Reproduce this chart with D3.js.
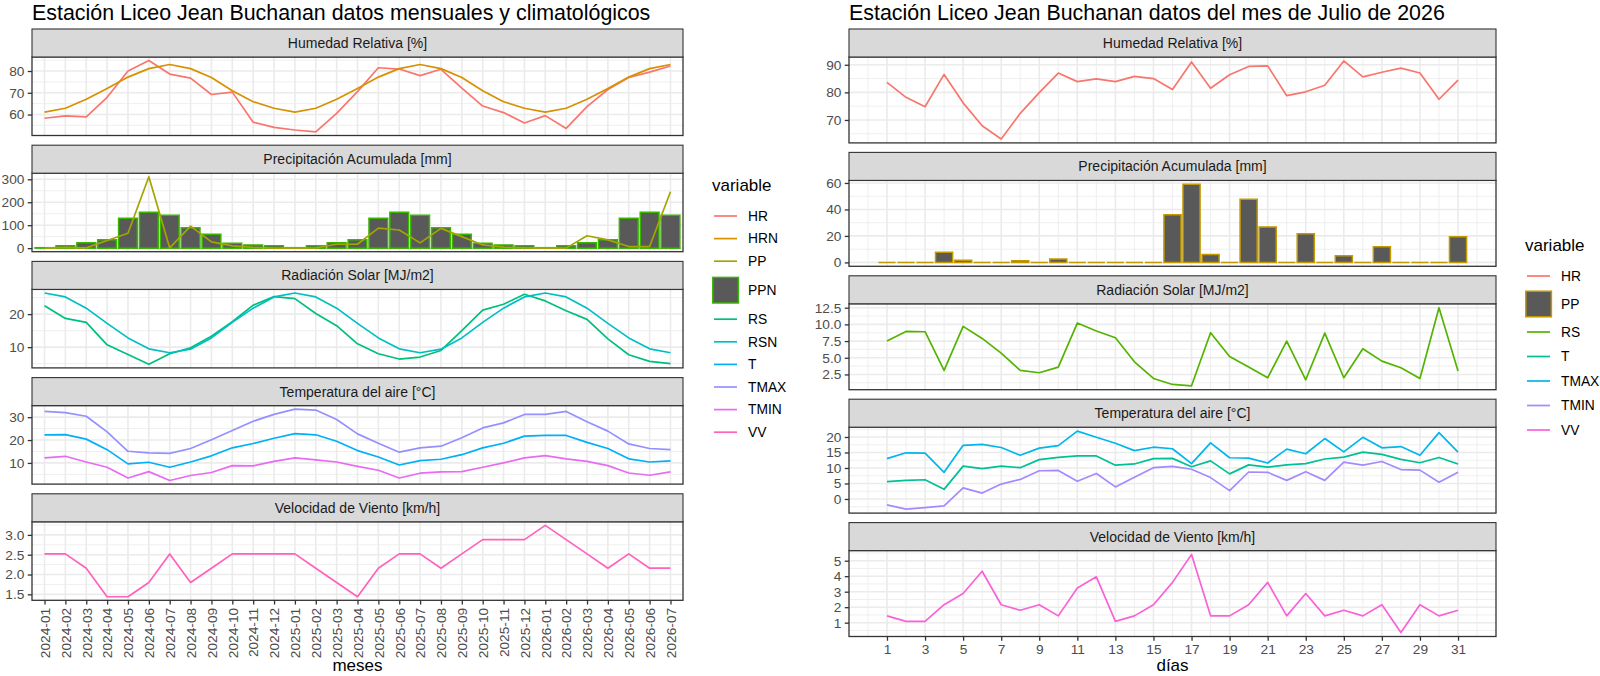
<!DOCTYPE html>
<html>
<head>
<meta charset="utf-8">
<script src="https://cdn.jsdelivr.net/npm/d3@7"></script>
<style>
  body { margin: 0; background: #fff; overflow: hidden; }
  svg text { font-family: "Liberation Sans", Arial, Helvetica, sans-serif; }
</style>
</head>
<body>
<script>
// ---- datos mensuales (2024-01 .. 2026-07)
const meses = ["2024-01","2024-02","2024-03","2024-04","2024-05","2024-06","2024-07","2024-08","2024-09","2024-10","2024-11","2024-12",
  "2025-01","2025-02","2025-03","2025-04","2025-05","2025-06","2025-07","2025-08","2025-09","2025-10","2025-11","2025-12",
  "2026-01","2026-02","2026-03","2026-04","2026-05","2026-06","2026-07"];
const HR   = [58.3,59.4,58.9,67.9,80.0,84.8,78.6,76.7,69.2,70.3,56.5,54.1, 52.9,52.0,60.5,70.5,81.5,80.9,77.9,80.8,72.1,63.9,60.9,56.1, 59.5,53.6,63.6,71.5,77.0,79.5,82.3];
const HRN  = [61.1,62.9,67.0,72.0,77.2,81.1,83.0,81.1,77.0,70.9,65.9,62.9, 61.1,62.9,67.0,72.0,77.2,81.1,83.0,81.1,77.0,70.9,65.9,62.9, 61.1,62.9,67.0,72.0,77.2,81.1,83.0];
const PP   = [0,3,1,33,65,311,1,96,27,10,3,0, 0,1,17,17,87,79,23,86,50,14,4,1, 0,0,54,36,7,7,246];
const PPN  = [2,10,23,36,130,156,143,89,61,21,14,10, 2,10,23,36,130,156,143,89,61,21,14,10, 2,10,23,36,130,156,143];
const RS   = [22.5,18.7,17.5,10.7,7.8,4.8,8.0,9.8,13.3,17.7,22.7,25.3, 24.7,20.2,16.5,11.0,8.0,6.4,7.0,9.0,15.0,21.2,23.0,26.0, 24.0,21.0,18.4,12.5,7.7,5.7,5.0];
const RSN  = [26.4,25.2,21.8,17.2,12.8,9.5,8.3,9.4,12.8,17.5,21.8,25.2, 26.4,25.2,21.8,17.2,12.8,9.5,8.3,9.4,12.8,17.5,21.8,25.2, 26.4,25.2,21.8,17.2,12.8,9.5,8.3];
const T    = [22.3,22.4,20.4,15.8,9.6,10.3,8.1,10.4,13.1,16.6,18.5,20.8, 22.8,22.3,19.5,15.4,12.6,9.1,11.0,11.6,13.6,16.6,18.6,21.7, 22.0,22.0,19.0,16.3,11.8,10.4,10.9];
const TMAX = [32.5,32.0,30.4,23.6,15.1,14.4,14.2,16.3,20.1,24.2,28.2,31.2, 33.5,33.1,29.0,22.7,18.6,14.7,16.6,17.3,21.0,25.3,27.5,31.2, 31.2,32.5,28.0,23.9,18.3,16.3,15.8];
const TMIN = [12.2,12.9,10.4,8.1,3.4,6.2,2.3,4.5,5.8,8.8,8.7,10.7, 12.2,11.3,10.4,8.5,6.8,3.4,5.5,6.1,6.2,8.1,10.0,12.2, 13.2,11.8,10.7,8.8,5.6,4.6,6.1];
const VV   = [2.52,2.52,2.16,1.44,1.44,1.8,2.52,1.8,2.16,2.52,2.52,2.52, 2.52,2.16,1.8,1.44,2.16,2.52,2.52,2.16,2.52,2.88,2.88,2.88, 3.24,2.88,2.52,2.16,2.52,2.16,2.16];

// ---- datos diarios (julio 2026)
const dias  = [1,2,3,4,5,6,7,8,9,10,11,12,13,14,15,16,17,18,19,20,21,22,23,24,25,26,27,28,29,30,31];
const HRd   = [83.6,78.2,74.8,86.5,76.2,67.9,63.1,72.4,79.9,87.0,83.9,84.9,83.9,85.8,85.0,81.0,91.0,81.5,86.4,89.4,89.6,78.8,80.2,82.6,91.4,85.6,87.3,88.8,87.0,77.5,84.4];
const PPd   = [0,0,0,7.7,1.7,0,0,1.2,0,2.5,0,0,0,0,0,36,59,6,0,47.8,26.8,0,21.6,0,5,0,11.9,0,0,0,19.3];
const RSd   = [7.5,8.95,8.9,3.1,9.7,7.9,5.7,3.1,2.75,3.6,10.2,9.0,8.0,4.4,1.9,1.0,0.8,8.75,5.2,3.6,2.0,7.5,1.7,8.7,2.0,6.35,4.5,3.5,1.9,12.5,3.0];
const Td    = [5.6,6.0,6.2,3.1,10.6,9.8,10.6,10.1,12.7,13.4,13.9,13.9,10.9,11.3,13.0,13.1,10.4,12.3,8.1,11.0,10.3,11.0,11.4,12.9,13.5,15.1,14.4,12.8,11.7,13.4,11.3];
const TMAXd = [13.0,14.9,14.8,8.6,17.3,17.6,16.6,14.1,16.4,17.2,21.9,19.9,18.0,15.6,16.7,16.2,11.4,18.1,13.3,13.2,11.6,16.1,14.6,19.5,15.2,19.9,16.5,16.9,14.1,21.4,15.1];
const TMINd = [-1.9,-3.3,-2.8,-2.2,3.6,1.9,4.8,6.3,9.1,9.2,5.7,8.2,3.9,7.0,10.1,10.5,9.6,6.9,2.7,8.7,8.6,6.0,8.8,6.0,11.9,10.9,12.1,9.5,9.3,5.4,8.6];
const VVd   = [1.44,1.08,1.08,2.16,2.88,4.32,2.16,1.8,2.16,1.44,3.24,3.96,1.08,1.44,2.16,3.6,5.4,1.44,1.44,2.16,3.6,1.44,2.88,1.44,1.8,1.44,2.16,0.36,2.16,1.44,1.8];

// ---- textos y marcas de ejes
const strips = ["Humedad Relativa [%]", "Precipitación Acumulada [mm]", "Radiación Solar [MJ/m2]", "Temperatura del aire [°C]", "Velocidad de Viento [km/h]"];
const hrTicks = [60, 70, 80], ppTicks = [0, 100, 200, 300], rsTicks = [10, 20], tTicks = [10, 20, 30], vvTicks = [1.5, 2.0, 2.5, 3.0];
const hrTicksD = [70, 80, 90], ppTicksD = [0, 20, 40, 60], rsTicksD = [2.5, 5.0, 7.5, 10.0, 12.5], tTicksD = [0, 5, 10, 15, 20], vvTicksD = [1, 2, 3, 4, 5];
const diasBreaks = [1,3,5,7,9,11,13,15,17,19,21,23,25,27,29,31];

// paletas (hue de ggplot)
const varsL = ["HR","HRN","PP","PPN","RS","RSN","T","TMAX","TMIN","VV"];
const colsL = ["#F8766D","#D89000","#A3A500","#39B600","#00BF7D","#00BFC4","#00B0F6","#9590FF","#E76BF3","#FF62BC"];
const varsR = ["HR","PP","RS","T","TMAX","TMIN","VV"];
const colsR = ["#F8766D","#C49A00","#53B400","#00C094","#00B6EB","#A58AFF","#FB61D7"];
const cL = k => colsL[varsL.indexOf(k)];
const cR = k => colsR[varsR.indexOf(k)];

const svg = d3.select("body").append("svg").attr("width", 1600).attr("height", 676);

const STRIP = 28;
const BAR_FILL = "#595959";

function expand(vals) {
  const lo = d3.min(vals), hi = d3.max(vals), pad = (hi - lo) * 0.05;
  return [lo - pad, hi + pad];
}
function minorOf(ticks, dom) {
  const s = ticks[1] - ticks[0];
  return [ticks[0] - s / 2, ...ticks.map(t => t + s / 2)].filter(v => v >= dom[0] && v <= dom[1]);
}

function styleAxis(a) {
  a.attr("font-family", null).attr("font-size", 13.7);
  a.select(".domain").remove();
  a.selectAll("line").attr("stroke", "#333").attr("stroke-width", 1.3);
  a.selectAll("text").attr("fill", "#4D4D4D");
}

function drawSide(o) {
  const g = svg.append("g");
  g.append("text").attr("x", o.x0).attr("y", 20).attr("font-size", 21.4).attr("fill", "#000").text(o.title);

  o.panels.forEach((p, i) => {
    const st = o.top + i * o.step, pt = st + STRIP, pb = pt + o.ph;
    const all = [].concat(...p.lines.map(l => l[0]), p.bar ? p.bar[0] : [], p.bar ? [0] : []);
    const y = d3.scaleLinear().domain(expand(all)).range([pb, pt]);
    const pg = g.append("g");

    pg.append("rect").attr("x", o.x0).attr("y", pt).attr("width", o.x1 - o.x0).attr("height", o.ph).attr("fill", "#fff");

    // grilla
    const grid = pg.append("g").attr("stroke", "#EBEBEB").attr("fill", "none");
    grid.selectAll(".ymin").data(minorOf(p.ticks, y.domain())).join("line")
      .attr("x1", o.x0).attr("x2", o.x1).attr("y1", d => y(d)).attr("y2", d => y(d)).attr("stroke-width", 0.8);
    if (o.xMinor) {
      grid.selectAll(".xmin").data(o.xMinor).join("line")
        .attr("x1", d => o.x(d)).attr("x2", d => o.x(d)).attr("y1", pt).attr("y2", pb).attr("stroke-width", 0.8);
    }
    grid.selectAll(".ymaj").data(p.ticks).join("line")
      .attr("x1", o.x0).attr("x2", o.x1).attr("y1", d => y(d)).attr("y2", d => y(d)).attr("stroke-width", 1.6);
    grid.selectAll(".xmaj").data(o.xBreaks).join("line")
      .attr("x1", d => o.x(d)).attr("x2", d => o.x(d)).attr("y1", pt).attr("y2", pb).attr("stroke-width", 1.6);

    // barras
    if (p.bar) {
      const hw = o.barHalf;
      pg.append("g").selectAll("path").data(p.bar[0]).join("path")
        .attr("d", (v, j) => {
          const xc = o.x(o.xKey[j]);
          return `M${xc - hw},${y(0)}H${xc + hw}V${y(v)}H${xc - hw}Z`;
        })
        .attr("fill", BAR_FILL).attr("stroke", p.bar[1]).attr("stroke-width", 1.5);
    }

    // lineas
    p.lines.forEach(l => {
      const line = d3.line().x((v, j) => o.x(o.xKey[j])).y(v => y(v));
      pg.append("path").attr("d", line(l[0])).attr("fill", "none")
        .attr("stroke", l[1]).attr("stroke-width", 1.7).attr("stroke-linejoin", "round");
    });

    // borde del panel
    pg.append("rect").attr("x", o.x0).attr("y", pt).attr("width", o.x1 - o.x0).attr("height", o.ph)
      .attr("fill", "none").attr("stroke", "#333").attr("stroke-width", 1.3);

    // strip
    pg.append("rect").attr("x", o.x0).attr("y", st).attr("width", o.x1 - o.x0).attr("height", STRIP)
      .attr("fill", "#D9D9D9").attr("stroke", "#333").attr("stroke-width", 1.1);
    pg.append("text").attr("x", (o.x0 + o.x1) / 2).attr("y", st + STRIP / 2).attr("dy", "0.35em")
      .attr("text-anchor", "middle").attr("font-size", 14).attr("fill", "#1A1A1A").text(strips[i]);

    // eje y
    const ay = pg.append("g").attr("transform", `translate(${o.x0},0)`)
      .call(d3.axisLeft(y).tickValues(p.ticks).tickSize(4.25).tickPadding(3.4).tickFormat(d3.format(p.fmt)));
    styleAxis(ay);

    // eje x (solo panel inferior)
    if (i === o.panels.length - 1) {
      const ax = pg.append("g").attr("transform", `translate(0,${pb})`)
        .call(d3.axisBottom(o.x).tickValues(o.xBreaks).tickSize(4.25).tickPadding(3.4).tickFormat(o.xFmt));
      styleAxis(ax);
      if (o.rotate) {
        ax.selectAll("text").attr("transform", "rotate(-90)").attr("text-anchor", "end")
          .attr("x", -7.6).attr("y", 0).attr("dy", "0.35em");
      }
      g.append("text").attr("x", (o.x0 + o.x1) / 2).attr("y", 670.5).attr("text-anchor", "middle")
        .attr("font-size", 17).attr("fill", "#000").text(o.xTitle);
    }
  });

  // leyenda
  const lg = g.append("g");
  lg.append("text").attr("x", o.lx).attr("y", o.ly).attr("dy", "0.35em").attr("font-size", 17).attr("fill", "#000").text("variable");
  let cy = o.ly + 31;
  o.legVars.forEach((k, j) => {
    if (j > 0) cy += (k === o.barVar || o.legVars[j - 1] === o.barVar) ? o.boxGap : o.rowGap;
    if (k === o.barVar) {
      lg.append("rect").attr("x", o.lx + 0.8).attr("y", cy - 12.8).attr("width", 25.6).attr("height", 25.6)
        .attr("fill", BAR_FILL).attr("stroke", o.col(k)).attr("stroke-width", 1.5);
    } else {
      lg.append("line").attr("x1", o.lx + 2).attr("x2", o.lx + 25).attr("y1", cy).attr("y2", cy)
        .attr("stroke", o.col(k)).attr("stroke-width", 1.7);
    }
    lg.append("text").attr("x", o.lx + 36).attr("y", cy).attr("dy", "0.35em").attr("font-size", 13.8).attr("fill", "#000").text(k);
  });
}

// ---- izquierda: mensual
const xL = d3.scalePoint().domain(meses).range([32, 683]).padding(0.6);
drawSide({
  title: "Estación Liceo Jean Buchanan datos mensuales y climatológicos",
  x0: 32, x1: 683, top: 29, step: 116.2, ph: 78.5,
  x: xL, xKey: meses, xBreaks: meses, xMinor: null, xFmt: d => d, rotate: true,
  barHalf: 0.45 * xL.step(), xTitle: "meses",
  lx: 712, ly: 185, rowGap: 22.6, boxGap: 29, legVars: varsL, barVar: "PPN", col: cL,
  panels: [
    { ticks: hrTicks, fmt: "d", lines: [[HR, cL("HR")], [HRN, cL("HRN")]] },
    { ticks: ppTicks, fmt: "d", bar: [PPN, cL("PPN")], lines: [[PP, cL("PP")]] },
    { ticks: rsTicks, fmt: "d", lines: [[RS, cL("RS")], [RSN, cL("RSN")]] },
    { ticks: tTicks, fmt: "d", lines: [[T, cL("T")], [TMAX, cL("TMAX")], [TMIN, cL("TMIN")]] },
    { ticks: vvTicks, fmt: ".1f", lines: [[VV, cL("VV")]] }
  ]
});

// ---- derecha: diario
const xR = d3.scaleLinear().domain(expand([0.55, 31.45])).range([849, 1496]);
drawSide({
  title: "Estación Liceo Jean Buchanan datos del mes de Julio de 2026",
  x0: 849, x1: 1496, top: 29, step: 123.4, ph: 85.9,
  x: xR, xKey: dias, xBreaks: diasBreaks, xMinor: minorOf(diasBreaks, xR.domain()), xFmt: d3.format("d"), rotate: false,
  barHalf: 0.45 * (xR(1) - xR(0)), xTitle: "días",
  lx: 1525, ly: 245, rowGap: 24.5, boxGap: 28, legVars: varsR, barVar: "PP", col: cR,
  panels: [
    { ticks: hrTicksD, fmt: "d", lines: [[HRd, cR("HR")]] },
    { ticks: ppTicksD, fmt: "d", bar: [PPd, cR("PP")], lines: [] },
    { ticks: rsTicksD, fmt: ".1f", lines: [[RSd, cR("RS")]] },
    { ticks: tTicksD, fmt: "d", lines: [[Td, cR("T")], [TMAXd, cR("TMAX")], [TMINd, cR("TMIN")]] },
    { ticks: vvTicksD, fmt: "d", lines: [[VVd, cR("VV")]] }
  ]
});
</script>
</body>
</html>
